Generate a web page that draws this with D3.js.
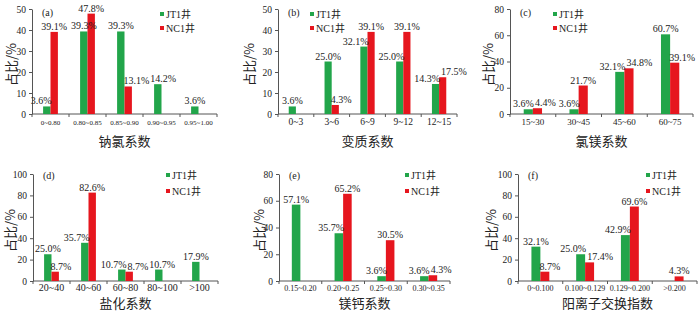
<!DOCTYPE html>
<html lang="zh">
<head>
  <meta charset="UTF-8"/>
  <title>水化学系数分布</title>
  <script src="https://d3js.org/d3.v7.min.js"></script>
  <style>
    body { margin: 0; background: #fff; }
    text { font-family: "Liberation Serif", "Times New Roman", "Noto Sans CJK SC", serif; }
    .cjk { font-family: "Noto Sans CJK SC", sans-serif; }
  </style>
</head>
<body>
<script>
  var w = 700;
  var h = 313;

  var seriesNames = ["JT1井", "NC1井"];
  var colors = ["#22a54a", "#e6161e"];

  // (a) 钠氯系数
  var catsA = ["0~0.80", "0.80~0.85", "0.85~0.90", "0.90~0.95", "0.95~1.00"];
  var jtA = [3.6, 39.3, 39.3, 14.2, 3.6];
  var ncA = [39.1, 47.8, 13.1, null, null];
  // (b) 变质系数
  var catsB = ["0~3", "3~6", "6~9", "9~12", "12~15"];
  var jtB = [3.6, 25.0, 32.1, 25.0, 14.3];
  var ncB = [null, 4.3, 39.1, 39.1, 17.5];
  // (c) 氯镁系数
  var catsC = ["15~30", "30~45", "45~60", "60~75"];
  var jtC = [3.6, 3.6, 32.1, 60.7];
  var ncC = [4.4, 21.7, 34.8, 39.1];
  // (d) 盐化系数
  var catsD = ["20~40", "40~60", "60~80", "80~100", ">100"];
  var jtD = [25.0, 35.7, 10.7, 10.7, 17.9];
  var ncD = [8.7, 82.6, 8.7, null, null];
  // (e) 镁钙系数
  var catsE = ["0.15~0.20", "0.20~0.25", "0.25~0.30", "0.30~0.35"];
  var jtE = [57.1, 35.7, 3.6, 3.6];
  var ncE = [null, 65.2, 30.5, 4.3];
  // (f) 阳离子交换指数
  var catsF = ["0~0.100", "0.100~0.129", "0.129~0.200", ">0.200"];
  var jtF = [32.1, 25.0, 42.9, null];
  var ncF = [8.7, 17.4, 69.6, 4.3];

  var yMaxes = [50, 50, 80, 100, 80, 100];
  var yTickSteps = [10, 10, 20, 20, 20, 20];
  var titles = ["钠氯系数", "变质系数", "氯镁系数", "盐化系数", "镁钙系数", "阳离子交换指数"];
  var letters = ["(a)", "(b)", "(c)", "(d)", "(e)", "(f)"];

  // layout of the six panels
  var panels = [
    {cats: catsA, jt: jtA, nc: ncA, left: 32,  right: 217, row: 0, catFont: 7,   legX: 162, yTitleX: 11},
    {cats: catsB, jt: jtB, nc: ncB, left: 278, right: 457, row: 0, catFont: 9.5, legX: 312, yTitleX: 249},
    {cats: catsC, jt: jtC, nc: ncC, left: 510, right: 693, row: 0, catFont: 9,   legX: 555, yTitleX: 488},
    {cats: catsD, jt: jtD, nc: ncD, left: 33,  right: 218, row: 1, catFont: 10,  legX: 168, yTitleX: 10},
    {cats: catsE, jt: jtE, nc: ncE, left: 279, right: 450, row: 1, catFont: 8,   legX: 407, yTitleX: 259},
    {cats: catsF, jt: jtF, nc: ncF, left: 518, right: 697, row: 1, catFont: 8,   legX: 648, yTitleX: 491}
  ];
  var rows = [
    {top: 9,   bottom: 114, catY: 125, titleY: 146, letterY: 16,  legY: [14, 28]},
    {top: 174, bottom: 281, catY: 291, titleY: 308, letterY: 179, legY: [175, 191]}
  ];

  var svg = d3.select("body")
          .append("svg")
          .attr("width", w)
          .attr("height", h);

  var axisColor = "#555";

  panels.forEach(function(p, pi) {
    var r = rows[p.row];
    var g = svg.append("g");

    var xScale = d3.scaleBand()
            .domain(p.cats)
            .range([p.left, p.right]);
    var yScale = d3.scaleLinear()
            .domain([0, yMaxes[pi]])
            .range([r.bottom, r.top]);

    var barW = xScale.bandwidth() * 0.2;

    // y axis
    var yAxis = d3.axisLeft(yScale)
            .tickValues(d3.range(0, yMaxes[pi] + 1, yTickSteps[pi]))
            .tickSize(3)
            .tickSizeOuter(0)
            .tickPadding(3);
    var ya = g.append("g")
            .attr("transform", "translate(" + p.left + ",0)")
            .call(yAxis);
    ya.selectAll("path, line").attr("stroke", axisColor);
    ya.selectAll("text").attr("font-size", 9.5).attr("fill", "#222")
            .style("font-family", "'Liberation Serif', serif");

    // x axis line with ticks at band edges
    g.append("line")
            .attr("x1", p.left).attr("x2", p.right)
            .attr("y1", r.bottom).attr("y2", r.bottom)
            .attr("stroke", axisColor);
    var edges = p.cats.map(function(c) { return xScale(c); }).concat([p.right]);
    g.selectAll(".xt")
            .data(edges)
            .enter()
            .append("line")
            .attr("x1", function(d) { return d; })
            .attr("x2", function(d) { return d; })
            .attr("y1", r.bottom)
            .attr("y2", r.bottom + 3)
            .attr("stroke", axisColor);

    g.selectAll(".cat")
            .data(p.cats)
            .enter()
            .append("text")
            .attr("x", function(d) { return xScale(d) + xScale.bandwidth() / 2; })
            .attr("y", r.catY)
            .attr("text-anchor", "middle")
            .attr("font-size", p.catFont)
            .attr("fill", "#222")
            .text(function(d) { return d; });

    // bars
    var bars = [];
    p.cats.forEach(function(c, i) {
      var cx = xScale(c) + xScale.bandwidth() / 2;
      bars.push({v: p.jt[i], x: cx - barW, s: 0, other: p.nc[i]});
      bars.push({v: p.nc[i], x: cx, s: 1, other: p.jt[i]});
    });
    bars = bars.filter(function(d) { return d.v !== null; });

    g.selectAll(".bar")
            .data(bars)
            .enter()
            .append("rect")
            .attr("x", function(d) { return d.x; })
            .attr("y", function(d) { return yScale(d.v); })
            .attr("width", barW)
            .attr("height", function(d) { return r.bottom - yScale(d.v); })
            .attr("fill", function(d) { return colors[d.s]; });

    // value labels: preferred spot beside the neighbour bar, then centred,
    // then pushed right past whatever label it runs into
    var placed = [];
    g.selectAll(".val")
            .data(bars)
            .enter()
            .append("text")
            .attr("font-size", 10)
            .attr("fill", "#222")
            .attr("text-anchor", "start")
            .attr("y", function(d) { return yScale(d.v) - 2; })
            .text(function(d) { return d.v.toFixed(1) + "%"; })
            .each(function(d) {
              var tw = this.getComputedTextLength();
              var by = yScale(d.v) - 2;
              var centre = d.x + barW / 2 - tw / 2;
              var cands = [];
              if (needsShift(d)) cands.push(d.s === 0 ? d.x + barW + 1 - tw : d.x - 1);
              cands.push(centre);
              var x0 = null;
              for (var k = 0; k < cands.length; k++) {
                if (!hit(cands[k], tw, by)) { x0 = cands[k]; break; }
              }
              if (x0 === null) {
                x0 = cands[0];
                placed.forEach(function(q) {
                  if (Math.abs(q.y - by) < 9 && q.x1 > x0 && q.x0 < x0 + tw) x0 = q.x1 + 1;
                });
              }
              d3.select(this).attr("x", x0);
              placed.push({x0: x0, x1: x0 + tw, y: by});
            });

    function hit(x0, tw, by) {
      return placed.some(function(q) {
        return Math.abs(q.y - by) < 9 && q.x1 > x0 && q.x0 < x0 + tw;
      });
    }

    function needsShift(d) {
      if (d.other === null) return false;
      var dy = Math.abs(yScale(d.v) - yScale(d.other));
      if (dy < 11) return true;
      return d.other > d.v;
    }

    // titles
    g.append("text")
            .attr("class", "cjk")
            .attr("x", (p.left + p.right) / 2)
            .attr("y", r.titleY)
            .attr("text-anchor", "middle")
            .attr("font-size", 13)
            .attr("fill", "#222")
            .text(titles[pi]);

    g.append("text")
            .attr("class", "cjk")
            .attr("transform", "translate(" + (p.yTitleX + 5) + "," + ((r.top + r.bottom) / 2 + 3) + ") rotate(-90)")
            .attr("text-anchor", "middle")
            .attr("font-size", 13)
            .attr("fill", "#222")
            .text("占比/%");

    g.append("text")
            .attr("x", p.left + 10)
            .attr("y", r.letterY)
            .attr("font-size", 10)
            .attr("fill", "#222")
            .text(letters[pi]);

    // legend
    seriesNames.forEach(function(name, si) {
      g.append("rect")
              .attr("x", p.legX - 2)
              .attr("y", r.legY[si] - 2)
              .attr("width", 4)
              .attr("height", 4)
              .attr("fill", colors[si]);
      g.append("text")
              .attr("x", p.legX + 4)
              .attr("y", r.legY[si] + 4)
              .attr("font-size", 10)
              .attr("fill", "#222")
              .text(name);
    });
  });
</script>
</body>
</html>
